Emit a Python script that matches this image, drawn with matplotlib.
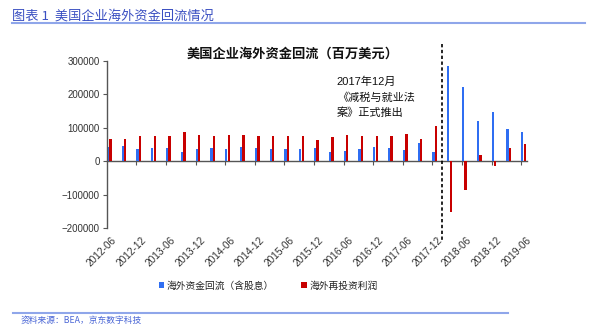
import matplotlib
matplotlib.use("Agg")
import matplotlib.pyplot as plt
from matplotlib.ticker import FixedLocator, FuncFormatter
from matplotlib.lines import Line2D
import numpy as np

CJK = ['Noto Sans CJK SC', 'DejaVu Sans']
plt.rcParams['font.family'] = ['Liberation Sans', 'Noto Sans CJK SC', 'DejaVu Sans']
plt.rcParams['axes.unicode_minus'] = True

# Quarterly periods, 2012-06 .. 2019-06
quarters = ['2012-06', '2012-09', '2012-12', '2013-03', '2013-06', '2013-09', '2013-12',
            '2014-03', '2014-06', '2014-09', '2014-12', '2015-03', '2015-06', '2015-09',
            '2015-12', '2016-03', '2016-06', '2016-09', '2016-12', '2017-03', '2017-06',
            '2017-09', '2017-12', '2018-03', '2018-06', '2018-09', '2018-12', '2019-03',
            '2019-06']

# Repatriated overseas earnings incl. dividends (USD mn)
repatriation = [42700, 45700, 37800, 39800, 39800, 28800, 36800, 40800, 36800, 41700,
                39800, 36800, 36800, 36800, 39800, 28800, 31800, 35800, 42700, 38800,
                34800, 54700, 26800, 284300, 222700, 120300, 146100, 95400, 87500]

# Reinvested overseas earnings (USD mn)
reinvested = [66600, 67600, 74600, 74600, 74600, 87500, 78500, 74600, 77500, 77500,
              76500, 74600, 75500, 75500, 64600, 72600, 77500, 74600, 74600, 76500,
              80500, 67600, 103900, -151100, -85500, 17900, -12900, 40800, 51700]

yticks = [300000, 200000, 100000, 0, -100000, -200000]
label_every = 2
event_pos = 22.68  # boundary between 2017-12 and 2018-03

series_names = ['海外资金回流（含股息）', '海外再投资利润']
blue = '#2f6ef2'
red = '#c80000'
hdr = '#3b50c2'

fig = plt.figure(figsize=(6.0, 3.34), dpi=100)
ax = fig.add_axes([0.178, 0.3165, 0.7, 0.5015])

x = np.arange(len(quarters))
b1 = ax.bar(x, repatriation, width=0.155, align='edge', color=blue, linewidth=0)
b2 = ax.bar(x + 0.16, reinvested, width=0.165, align='edge', color=red, linewidth=0)

ax.set_xlim(0, len(quarters) - 0.62)
ax.set_ylim(min(yticks), max(yticks))

# y axis
ax.yaxis.set_major_locator(FixedLocator(yticks))
ax.yaxis.set_major_formatter(FuncFormatter(lambda v, p: f"{int(v)}".replace('-', '\u2212')))
ax.tick_params(axis='y', direction='out', length=3, width=0.8, colors='#555555',
               labelsize=7, labelcolor='#333333', pad=2)
for s in ['top', 'right', 'bottom']:
    ax.spines[s].set_visible(False)
ax.spines['left'].set_color('#555555')
ax.spines['left'].set_linewidth(1.0)

# category labels along the bottom of the plot area
label_pos = x[::label_every] + 0.3
ax.xaxis.set_major_locator(FixedLocator(label_pos))
ax.set_xticklabels(quarters[::label_every])
ax.tick_params(axis='x', length=0, pad=5, labelsize=7.3, labelcolor='#333333')
for lab in ax.get_xticklabels():
    lab.set_rotation(45)
    lab.set_ha('right')
    lab.set_rotation_mode('anchor')

# zero axis with boundary ticks
zax = ax.secondary_xaxis(0, transform=ax.transData)
zax.spines['bottom'].set_color('#555555')
zax.spines['bottom'].set_linewidth(1.0)
zax.xaxis.set_major_locator(FixedLocator(x[::label_every][1:]))
zax.tick_params(axis='x', direction='out', length=3, width=0.8, colors='#555555',
                labelbottom=False)

# policy event marker
ax.plot([event_pos, event_pos], [350000, -240000], color='black', lw=1.2,
        linestyle=(0, (2.0, 1.5)), clip_on=False, zorder=5)

ax.text(15.55, 236500, '2017年12月', fontsize=8, family=['Liberation Sans', 'Noto Sans CJK SC'],
        ha='left', va='center', color='#111111')
ax.text(15.55, 190000, '《减税与就业法', fontsize=8, family=CJK, ha='left', va='center',
        color='#111111')
ax.text(15.55, 144000, '案》正式推出', fontsize=8, family=CJK, ha='left', va='center',
        color='#111111')

fig.text(0.488, 0.838, '美国企业海外资金回流（百万美元）', fontsize=9.5, family=CJK,
         fontweight='bold', ha='center', va='center', color='#111111')

# header and footer
fig.text(0.02, 0.953, '图表 1  美国企业海外资金回流情况', fontsize=9.5, family=CJK,
         ha='left', va='center', color=hdr)
fig.add_artist(Line2D([0.02, 0.975], [0.93, 0.93], color='#8fa6ea', lw=1.5))
fig.add_artist(Line2D([0.022, 0.847], [0.064, 0.064], color='#8fa6ea', lw=1.5))
fig.text(0.034, 0.042, '资料来源：BEA，京东数字科技', fontsize=6.3, family=CJK,
         ha='left', va='center', color='#4a66d6', style='italic')

fig.legend([b1, b2], series_names, loc='center', bbox_to_anchor=(0.447, 0.145),
           ncol=2, frameon=False, prop={'family': CJK, 'size': 7},
           handlelength=0.55, handleheight=0.55, handletextpad=0.3, columnspacing=2.8,
           labelcolor='#222222')

fig.savefig('out.png', dpi=100)
